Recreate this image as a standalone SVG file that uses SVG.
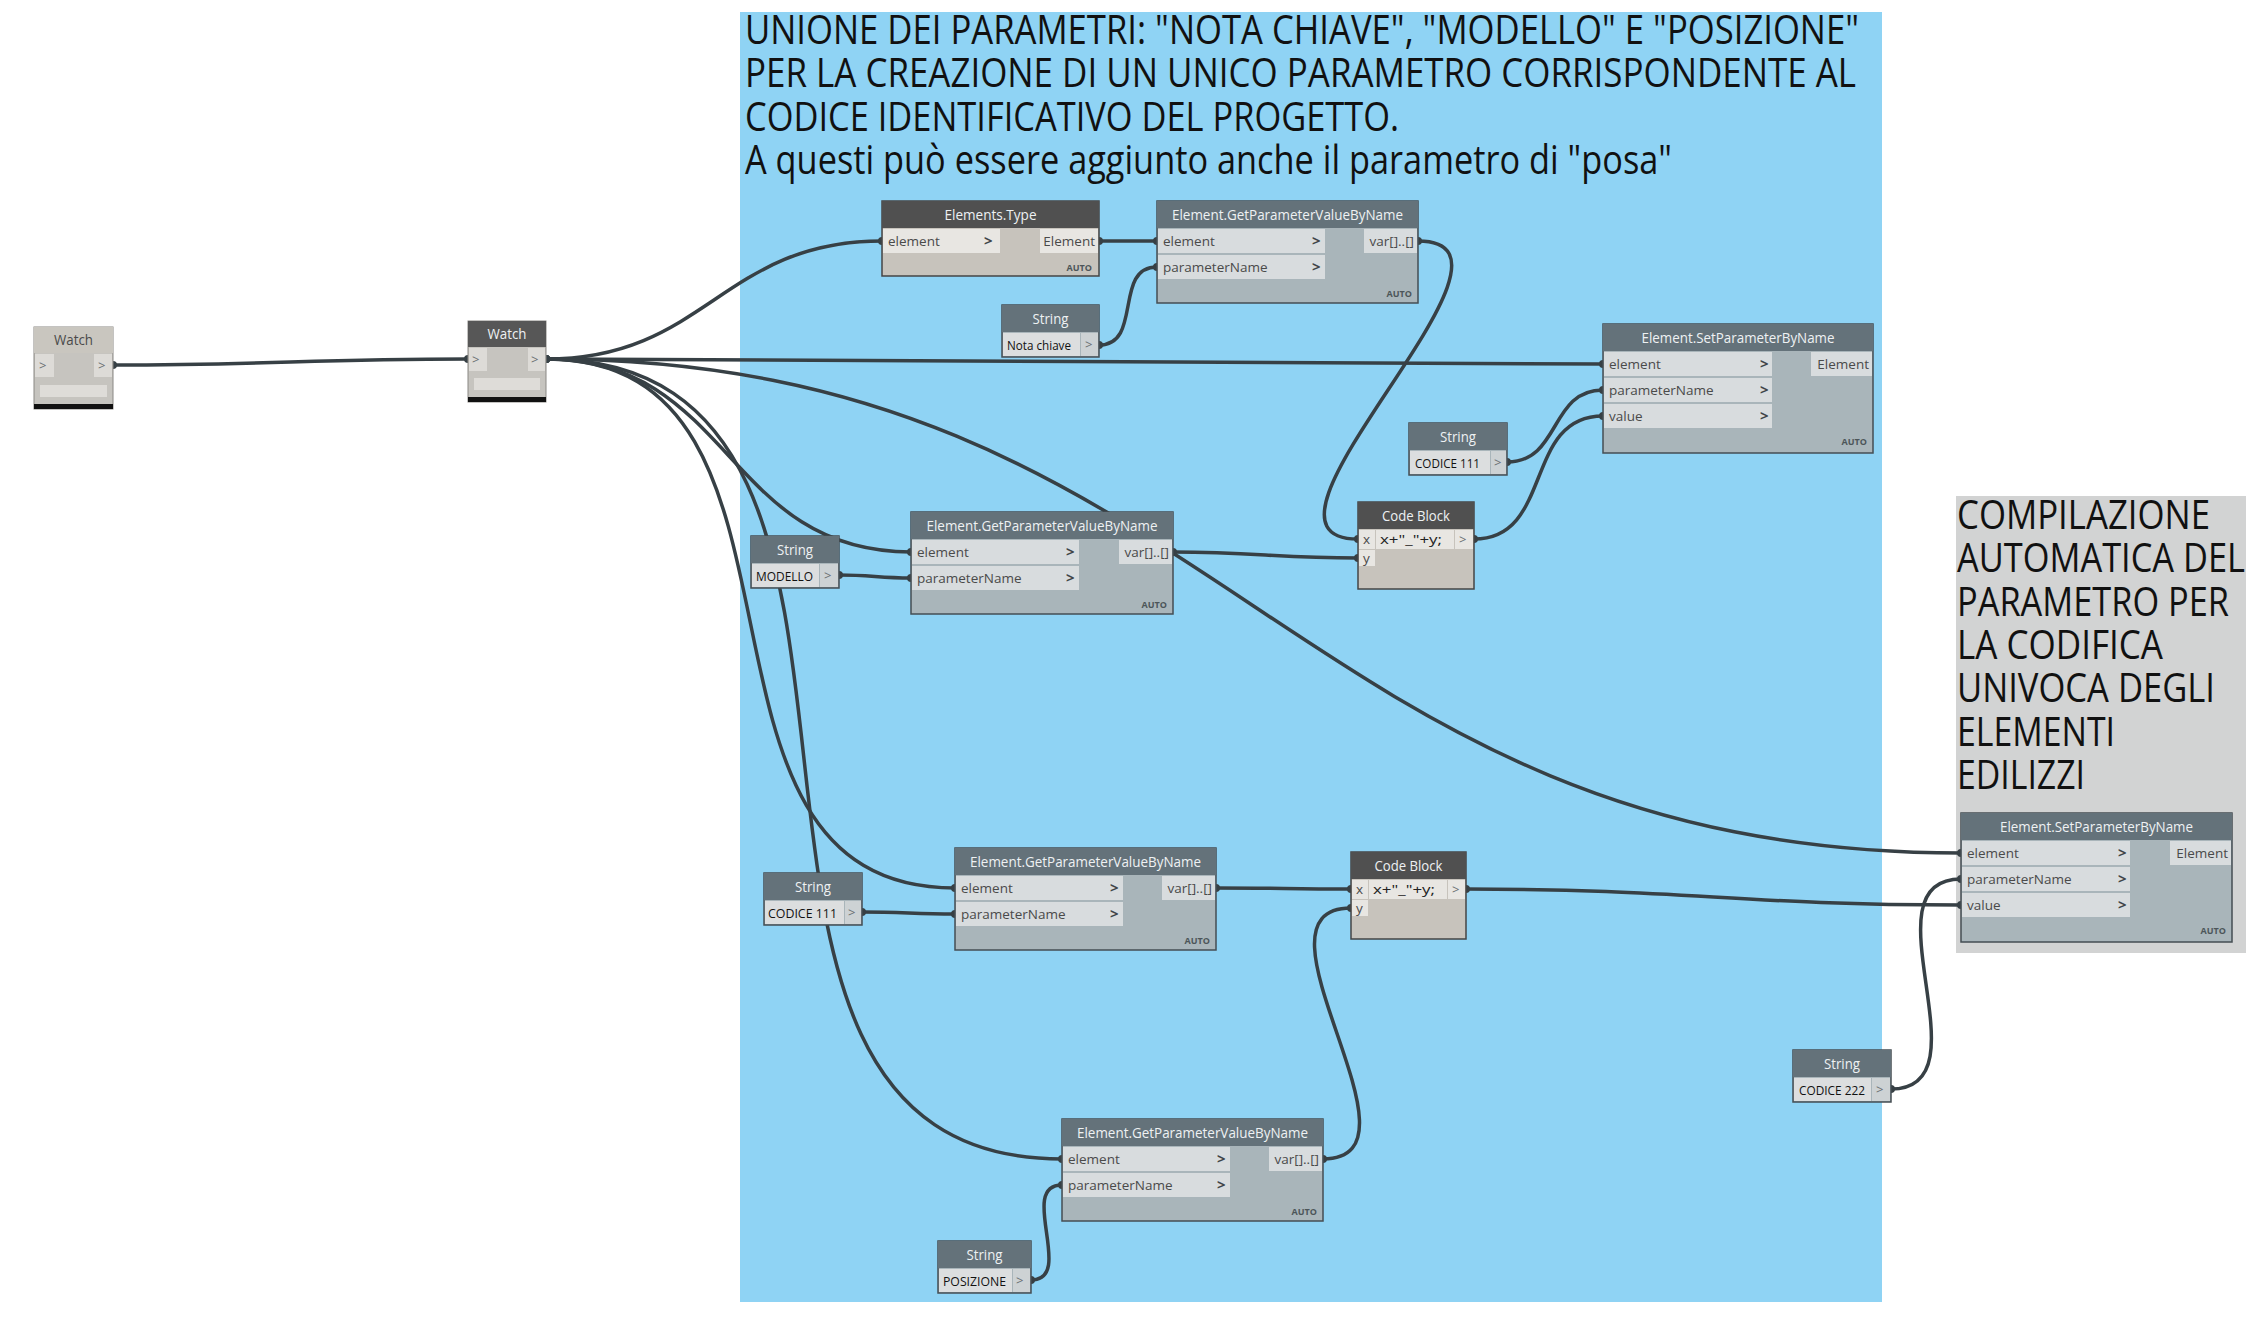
<svg xmlns="http://www.w3.org/2000/svg" width="2268" height="1338" viewBox="0 0 2268 1338">
<defs>
<style>
text{font-family:"Open Sans","Noto Sans","DejaVu Sans",sans-serif}
.bg{fill:#ffffff}
.grp-blue{fill:#8fd3f4}
.grp-gray{fill:#d2d3d3}
.gtxt{font-size:40px;fill:#111111}
.nb-slate{fill:#a9b5ba;stroke:#454e53;stroke-width:1.5}
.nb-beige{fill:#c7c3bc;stroke:#454545;stroke-width:1.5}
.nb-watch{fill:#c6c4bf;stroke:#8a8884;stroke-width:1}
.h-slate{fill:#64727a}
.h-dark{fill:#505050}
.h-watch2{fill:#575757}
.h-watch1{fill:#c9c6bf}
.port{fill:#d8dcde}
.port-b{fill:#e8e6e2}
.sval{fill:#dcdedf}
.sarr{fill:#cdd2d4}
.wport{fill:#dddbd7}
.wbar{fill:#dedcd8}
.blk{fill:#111111}
.ttl{font-size:14px;fill:#eef1f3;text-anchor:middle}
.ttl-d{font-size:14px;fill:#4a4a4a;text-anchor:middle}
.lbl{font-size:13.5px;fill:#4a4a4a}
.lbl-r{font-size:13.5px;fill:#4a4a4a;text-anchor:end}
.val{font-size:13.5px;fill:#111111}
.chev{font-size:15px;font-weight:bold;fill:#3f4548}
.gt{font-size:13px;fill:#6a6f72}
.auto{font-size:9px;font-weight:bold;fill:#4d5559;text-anchor:end}
.code{font-size:13px;fill:#222222}
.wire{fill:none;stroke:#374045;stroke-width:3.5;marker-start:url(#nub);marker-end:url(#nub)}
</style>
<marker id="nub" viewBox="-5 -5 10 10" markerWidth="10" markerHeight="10" markerUnits="userSpaceOnUse" refX="0" refY="0"><circle r="4" fill="#374045"/></marker>
</defs>
<rect class="bg" x="0" y="0" width="2268" height="1338"/>

<g id="group-blue">
<rect class="grp-blue" x="740" y="12" width="1142" height="1290"/>
<text class="gtxt" x="745" y="44" textLength="1114" lengthAdjust="spacingAndGlyphs">UNIONE DEI PARAMETRI: "NOTA CHIAVE", "MODELLO" E "POSIZIONE"</text>
<text class="gtxt" x="745" y="87" textLength="1111" lengthAdjust="spacingAndGlyphs">PER LA CREAZIONE DI UN UNICO PARAMETRO CORRISPONDENTE AL</text>
<text class="gtxt" x="745" y="131" textLength="654" lengthAdjust="spacingAndGlyphs">CODICE IDENTIFICATIVO DEL PROGETTO.</text>
<text class="gtxt" x="745" y="174" textLength="927" lengthAdjust="spacingAndGlyphs">A questi può essere aggiunto anche il parametro di "posa"</text>
</g>

<g id="group-gray">
<rect class="grp-gray" x="1956" y="496" width="290" height="457"/>
<text class="gtxt" x="1957" y="529" textLength="253" lengthAdjust="spacingAndGlyphs">COMPILAZIONE</text>
<text class="gtxt" x="1957" y="572" textLength="288" lengthAdjust="spacingAndGlyphs">AUTOMATICA DEL</text>
<text class="gtxt" x="1957" y="616" textLength="272" lengthAdjust="spacingAndGlyphs">PARAMETRO PER</text>
<text class="gtxt" x="1957" y="659" textLength="206" lengthAdjust="spacingAndGlyphs">LA CODIFICA</text>
<text class="gtxt" x="1957" y="702" textLength="258" lengthAdjust="spacingAndGlyphs">UNIVOCA DEGLI</text>
<text class="gtxt" x="1957" y="746" textLength="158" lengthAdjust="spacingAndGlyphs">ELEMENTI</text>
<text class="gtxt" x="1957" y="789" textLength="128" lengthAdjust="spacingAndGlyphs">EDILIZZI</text>
</g>

<g id="connectors">
<path class="wire" d="M113,365 C273,365 308,359 468,359"/>
<path class="wire" d="M546,359 C706,359 722,241 882,241"/>
<path class="wire" d="M546,359 C1022,359 1127,364 1603,364"/>
<path class="wire" d="M546,359 C1220,359 1287,853 1961,853"/>
<path class="wire" d="M546,359 C732,359 725,552 911,552"/>
<path class="wire" d="M546,359 C847,359 654,888 955,888"/>
<path class="wire" d="M546,359 C974,359 634,1159 1062,1159"/>
<path class="wire" d="M1099,241 C1125,241 1131,241 1157,241"/>
<path class="wire" d="M1099,345 C1143,345 1113,267 1157,267"/>
<path class="wire" d="M1418,241 C1555,241 1221,539 1358,539"/>
<path class="wire" d="M1507,462 C1561,462 1549,390 1603,390"/>
<path class="wire" d="M1474,539 C1554,539 1523,416 1603,416"/>
<path class="wire" d="M839,575 C871,575 879,578 911,578"/>
<path class="wire" d="M1173,552 C1256,552 1275,558 1358,558"/>
<path class="wire" d="M862,912 C904,912 913,914 955,914"/>
<path class="wire" d="M1216,888 C1277,888 1290,889 1351,889"/>
<path class="wire" d="M1031,1280 C1076,1280 1017,1185 1062,1185"/>
<path class="wire" d="M1323,1159 C1437,1159 1237,908 1351,908"/>
<path class="wire" d="M1466,889 C1689,889 1738,905 1961,905"/>
<path class="wire" d="M1891,1089 C1991,1089 1861,879 1961,879"/>
</g>

<!-- Watch 1 -->
<g id="watch1">
<rect class="nb-watch" x="34" y="327" width="79" height="82"/>
<rect class="h-watch1" x="34" y="327" width="79" height="26"/>
<text class="ttl-d" x="73.5" y="345" textLength="39" lengthAdjust="spacingAndGlyphs">Watch</text>
<rect class="wport" x="35" y="354" width="19" height="23"/>
<text class="gt" x="39" y="370">&gt;</text>
<rect class="wport" x="94" y="354" width="18" height="23"/>
<text class="gt" x="98" y="370">&gt;</text>
<rect class="wbar" x="40" y="385" width="67" height="12"/>
<rect class="blk" x="34" y="404" width="79" height="5"/>
</g>

<!-- Watch 2 -->
<g id="watch2">
<rect class="nb-watch" x="468" y="321" width="78" height="81"/>
<rect class="h-watch2" x="468" y="321" width="78" height="26"/>
<text class="ttl" x="507" y="339" textLength="39" lengthAdjust="spacingAndGlyphs">Watch</text>
<rect class="wport" x="469" y="348" width="18" height="23"/>
<text class="gt" x="472" y="364">&gt;</text>
<rect class="wport" x="528" y="348" width="17" height="23"/>
<text class="gt" x="531" y="364">&gt;</text>
<rect class="wbar" x="474" y="378" width="66" height="12"/>
<rect class="blk" x="468" y="397" width="78" height="5"/>
</g>

<!-- Elements.Type -->
<g id="elements-type">
<rect class="nb-beige" x="882" y="201" width="217" height="75"/>
<rect class="h-dark" x="882" y="201" width="217" height="27"/>
<text class="ttl" x="990.5" y="219.5" textLength="92" lengthAdjust="spacingAndGlyphs">Elements.Type</text>
<rect class="port-b" x="883" y="229" width="117" height="24"/>
<text class="lbl" x="888" y="246">element</text>
<text class="chev" x="984" y="246">&gt;</text>
<rect class="port-b" x="1040" y="229" width="58" height="24"/>
<text class="lbl-r" x="1095" y="246">Element</text>
<text class="auto" x="1092" y="271">AUTO</text>
</g>

<!-- GetParameterValueByName A -->
<g id="getparam-a">
<rect class="nb-slate" x="1157" y="201" width="261" height="102"/>
<rect class="h-slate" x="1157" y="201" width="261" height="27"/>
<text class="ttl" x="1287.5" y="219.5" textLength="231" lengthAdjust="spacingAndGlyphs">Element.GetParameterValueByName</text>
<rect class="port" x="1158" y="229" width="167" height="24"/>
<text class="lbl" x="1163" y="246">element</text>
<text class="chev" x="1312" y="246">&gt;</text>
<rect class="port" x="1158" y="255" width="167" height="24"/>
<text class="lbl" x="1163" y="272">parameterName</text>
<text class="chev" x="1312" y="272">&gt;</text>
<rect class="port" x="1364" y="229" width="53" height="24"/>
<text class="lbl-r" x="1414" y="246">var[]..[]</text>
<text class="auto" x="1412" y="297">AUTO</text>
</g>

<!-- String Nota chiave -->
<g id="string-nota-chiave">
<rect class="nb-slate" x="1002" y="305" width="97" height="52"/>
<rect class="h-slate" x="1002" y="305" width="97" height="27"/>
<text class="ttl" x="1050.5" y="323.5" textLength="36" lengthAdjust="spacingAndGlyphs">String</text>
<rect class="sval" x="1003" y="333" width="77" height="23"/>
<text class="val" x="1007" y="350" textLength="64" lengthAdjust="spacingAndGlyphs">Nota chiave</text>
<rect class="sarr" x="1081" y="333" width="17" height="23"/>
<text class="gt" x="1085" y="349">&gt;</text>
</g>

<!-- SetParameterByName B -->
<g id="setparam-b">
<rect class="nb-slate" x="1603" y="324" width="270" height="129"/>
<rect class="h-slate" x="1603" y="324" width="270" height="27"/>
<text class="ttl" x="1738" y="342.5" textLength="193" lengthAdjust="spacingAndGlyphs">Element.SetParameterByName</text>
<rect class="port" x="1604" y="352" width="168" height="24"/>
<text class="lbl" x="1609" y="369">element</text>
<text class="chev" x="1760" y="369">&gt;</text>
<rect class="port" x="1604" y="378" width="168" height="24"/>
<text class="lbl" x="1609" y="395">parameterName</text>
<text class="chev" x="1760" y="395">&gt;</text>
<rect class="port" x="1604" y="404" width="168" height="24"/>
<text class="lbl" x="1609" y="421">value</text>
<text class="chev" x="1760" y="421">&gt;</text>
<rect class="port" x="1811" y="352" width="61" height="24"/>
<text class="lbl-r" x="1869" y="369">Element</text>
<text class="auto" x="1867" y="445">AUTO</text>
</g>

<!-- String CODICE 111 (top) -->
<g id="string-codice-111-a">
<rect class="nb-slate" x="1409" y="423" width="98" height="52"/>
<rect class="h-slate" x="1409" y="423" width="98" height="27"/>
<text class="ttl" x="1458" y="441.5" textLength="36" lengthAdjust="spacingAndGlyphs">String</text>
<rect class="sval" x="1410" y="451" width="80" height="23"/>
<text class="val" x="1415" y="468" textLength="65" lengthAdjust="spacingAndGlyphs">CODICE 111</text>
<rect class="sarr" x="1491" y="451" width="15" height="23"/>
<text class="gt" x="1494" y="467">&gt;</text>
</g>

<!-- Code Block top -->
<g id="codeblock-a">
<rect class="nb-beige" x="1358" y="502" width="116" height="87"/>
<rect class="h-dark" x="1358" y="502" width="116" height="27"/>
<text class="ttl" x="1416" y="520.5" textLength="68" lengthAdjust="spacingAndGlyphs">Code Block</text>
<rect class="port-b" x="1359" y="530" width="16" height="19"/>
<text class="lbl" x="1363" y="544">x</text>
<rect class="port-b" x="1376" y="530" width="78" height="19"/>
<text class="code" x="1380" y="544" textLength="62" lengthAdjust="spacingAndGlyphs">x+"_"+y;</text>
<rect class="port-b" x="1455" y="530" width="18" height="19"/>
<text class="gt" x="1459" y="544">&gt;</text>
<rect class="port-b" x="1359" y="550" width="16" height="16"/>
<text class="lbl" x="1363" y="563">y</text>
</g>

<!-- String MODELLO -->
<g id="string-modello">
<rect class="nb-slate" x="751" y="536" width="88" height="52"/>
<rect class="h-slate" x="751" y="536" width="88" height="27"/>
<text class="ttl" x="795" y="554.5" textLength="36" lengthAdjust="spacingAndGlyphs">String</text>
<rect class="sval" x="752" y="564" width="67" height="23"/>
<text class="val" x="756" y="581" textLength="57" lengthAdjust="spacingAndGlyphs">MODELLO</text>
<rect class="sarr" x="820" y="564" width="18" height="23"/>
<text class="gt" x="824" y="580">&gt;</text>
</g>

<!-- GetParameterValueByName C -->
<g id="getparam-c">
<rect class="nb-slate" x="911" y="512" width="262" height="102"/>
<rect class="h-slate" x="911" y="512" width="262" height="27"/>
<text class="ttl" x="1042" y="530.5" textLength="231" lengthAdjust="spacingAndGlyphs">Element.GetParameterValueByName</text>
<rect class="port" x="912" y="540" width="167" height="24"/>
<text class="lbl" x="917" y="557">element</text>
<text class="chev" x="1066" y="557">&gt;</text>
<rect class="port" x="912" y="566" width="167" height="24"/>
<text class="lbl" x="917" y="583">parameterName</text>
<text class="chev" x="1066" y="583">&gt;</text>
<rect class="port" x="1119" y="540" width="53" height="24"/>
<text class="lbl-r" x="1169" y="557">var[]..[]</text>
<text class="auto" x="1167" y="608">AUTO</text>
</g>

<!-- String CODICE 111 (bottom) -->
<g id="string-codice-111-b">
<rect class="nb-slate" x="764" y="873" width="98" height="52"/>
<rect class="h-slate" x="764" y="873" width="98" height="27"/>
<text class="ttl" x="813" y="891.5" textLength="36" lengthAdjust="spacingAndGlyphs">String</text>
<rect class="sval" x="765" y="901" width="79" height="23"/>
<text class="val" x="768" y="918" textLength="69" lengthAdjust="spacingAndGlyphs">CODICE 111</text>
<rect class="sarr" x="845" y="901" width="16" height="23"/>
<text class="gt" x="848" y="917">&gt;</text>
</g>

<!-- GetParameterValueByName D -->
<g id="getparam-d">
<rect class="nb-slate" x="955" y="848" width="261" height="102"/>
<rect class="h-slate" x="955" y="848" width="261" height="27"/>
<text class="ttl" x="1085.5" y="866.5" textLength="231" lengthAdjust="spacingAndGlyphs">Element.GetParameterValueByName</text>
<rect class="port" x="956" y="876" width="167" height="24"/>
<text class="lbl" x="961" y="893">element</text>
<text class="chev" x="1110" y="893">&gt;</text>
<rect class="port" x="956" y="902" width="167" height="24"/>
<text class="lbl" x="961" y="919">parameterName</text>
<text class="chev" x="1110" y="919">&gt;</text>
<rect class="port" x="1162" y="876" width="53" height="24"/>
<text class="lbl-r" x="1212" y="893">var[]..[]</text>
<text class="auto" x="1210" y="944">AUTO</text>
</g>

<!-- Code Block bottom -->
<g id="codeblock-b">
<rect class="nb-beige" x="1351" y="852" width="115" height="87"/>
<rect class="h-dark" x="1351" y="852" width="115" height="27"/>
<text class="ttl" x="1408.5" y="870.5" textLength="68" lengthAdjust="spacingAndGlyphs">Code Block</text>
<rect class="port-b" x="1352" y="880" width="16" height="19"/>
<text class="lbl" x="1356" y="894">x</text>
<rect class="port-b" x="1369" y="880" width="78" height="19"/>
<text class="code" x="1373" y="894" textLength="62" lengthAdjust="spacingAndGlyphs">x+"_"+y;</text>
<rect class="port-b" x="1448" y="880" width="17" height="19"/>
<text class="gt" x="1452" y="894">&gt;</text>
<rect class="port-b" x="1352" y="900" width="16" height="16"/>
<text class="lbl" x="1356" y="913">y</text>
</g>

<!-- GetParameterValueByName E -->
<g id="getparam-e">
<rect class="nb-slate" x="1062" y="1119" width="261" height="102"/>
<rect class="h-slate" x="1062" y="1119" width="261" height="27"/>
<text class="ttl" x="1192.5" y="1137.5" textLength="231" lengthAdjust="spacingAndGlyphs">Element.GetParameterValueByName</text>
<rect class="port" x="1063" y="1147" width="167" height="24"/>
<text class="lbl" x="1068" y="1164">element</text>
<text class="chev" x="1217" y="1164">&gt;</text>
<rect class="port" x="1063" y="1173" width="167" height="24"/>
<text class="lbl" x="1068" y="1190">parameterName</text>
<text class="chev" x="1217" y="1190">&gt;</text>
<rect class="port" x="1269" y="1147" width="53" height="24"/>
<text class="lbl-r" x="1319" y="1164">var[]..[]</text>
<text class="auto" x="1317" y="1215">AUTO</text>
</g>

<!-- String POSIZIONE -->
<g id="string-posizione">
<rect class="nb-slate" x="938" y="1241" width="93" height="52"/>
<rect class="h-slate" x="938" y="1241" width="93" height="27"/>
<text class="ttl" x="984.5" y="1259.5" textLength="36" lengthAdjust="spacingAndGlyphs">String</text>
<rect class="sval" x="939" y="1269" width="73" height="23"/>
<text class="val" x="943" y="1286" textLength="63" lengthAdjust="spacingAndGlyphs">POSIZIONE</text>
<rect class="sarr" x="1013" y="1269" width="17" height="23"/>
<text class="gt" x="1016" y="1285">&gt;</text>
</g>

<!-- String CODICE 222 -->
<g id="string-codice-222">
<rect class="nb-slate" x="1793" y="1050" width="98" height="52"/>
<rect class="h-slate" x="1793" y="1050" width="98" height="27"/>
<text class="ttl" x="1842" y="1068.5" textLength="36" lengthAdjust="spacingAndGlyphs">String</text>
<rect class="sval" x="1794" y="1078" width="77" height="23"/>
<text class="val" x="1799" y="1095" textLength="66" lengthAdjust="spacingAndGlyphs">CODICE 222</text>
<rect class="sarr" x="1872" y="1078" width="18" height="23"/>
<text class="gt" x="1876" y="1094">&gt;</text>
</g>

<!-- SetParameterByName F -->
<g id="setparam-f">
<rect class="nb-slate" x="1961" y="813" width="271" height="129"/>
<rect class="h-slate" x="1961" y="813" width="271" height="27"/>
<text class="ttl" x="2096.5" y="831.5" textLength="193" lengthAdjust="spacingAndGlyphs">Element.SetParameterByName</text>
<rect class="port" x="1962" y="841" width="168" height="24"/>
<text class="lbl" x="1967" y="858">element</text>
<text class="chev" x="2118" y="858">&gt;</text>
<rect class="port" x="1962" y="867" width="168" height="24"/>
<text class="lbl" x="1967" y="884">parameterName</text>
<text class="chev" x="2118" y="884">&gt;</text>
<rect class="port" x="1962" y="893" width="168" height="24"/>
<text class="lbl" x="1967" y="910">value</text>
<text class="chev" x="2118" y="910">&gt;</text>
<rect class="port" x="2170" y="841" width="61" height="24"/>
<text class="lbl-r" x="2228" y="858">Element</text>
<text class="auto" x="2226" y="934">AUTO</text>
</g>
</svg>
